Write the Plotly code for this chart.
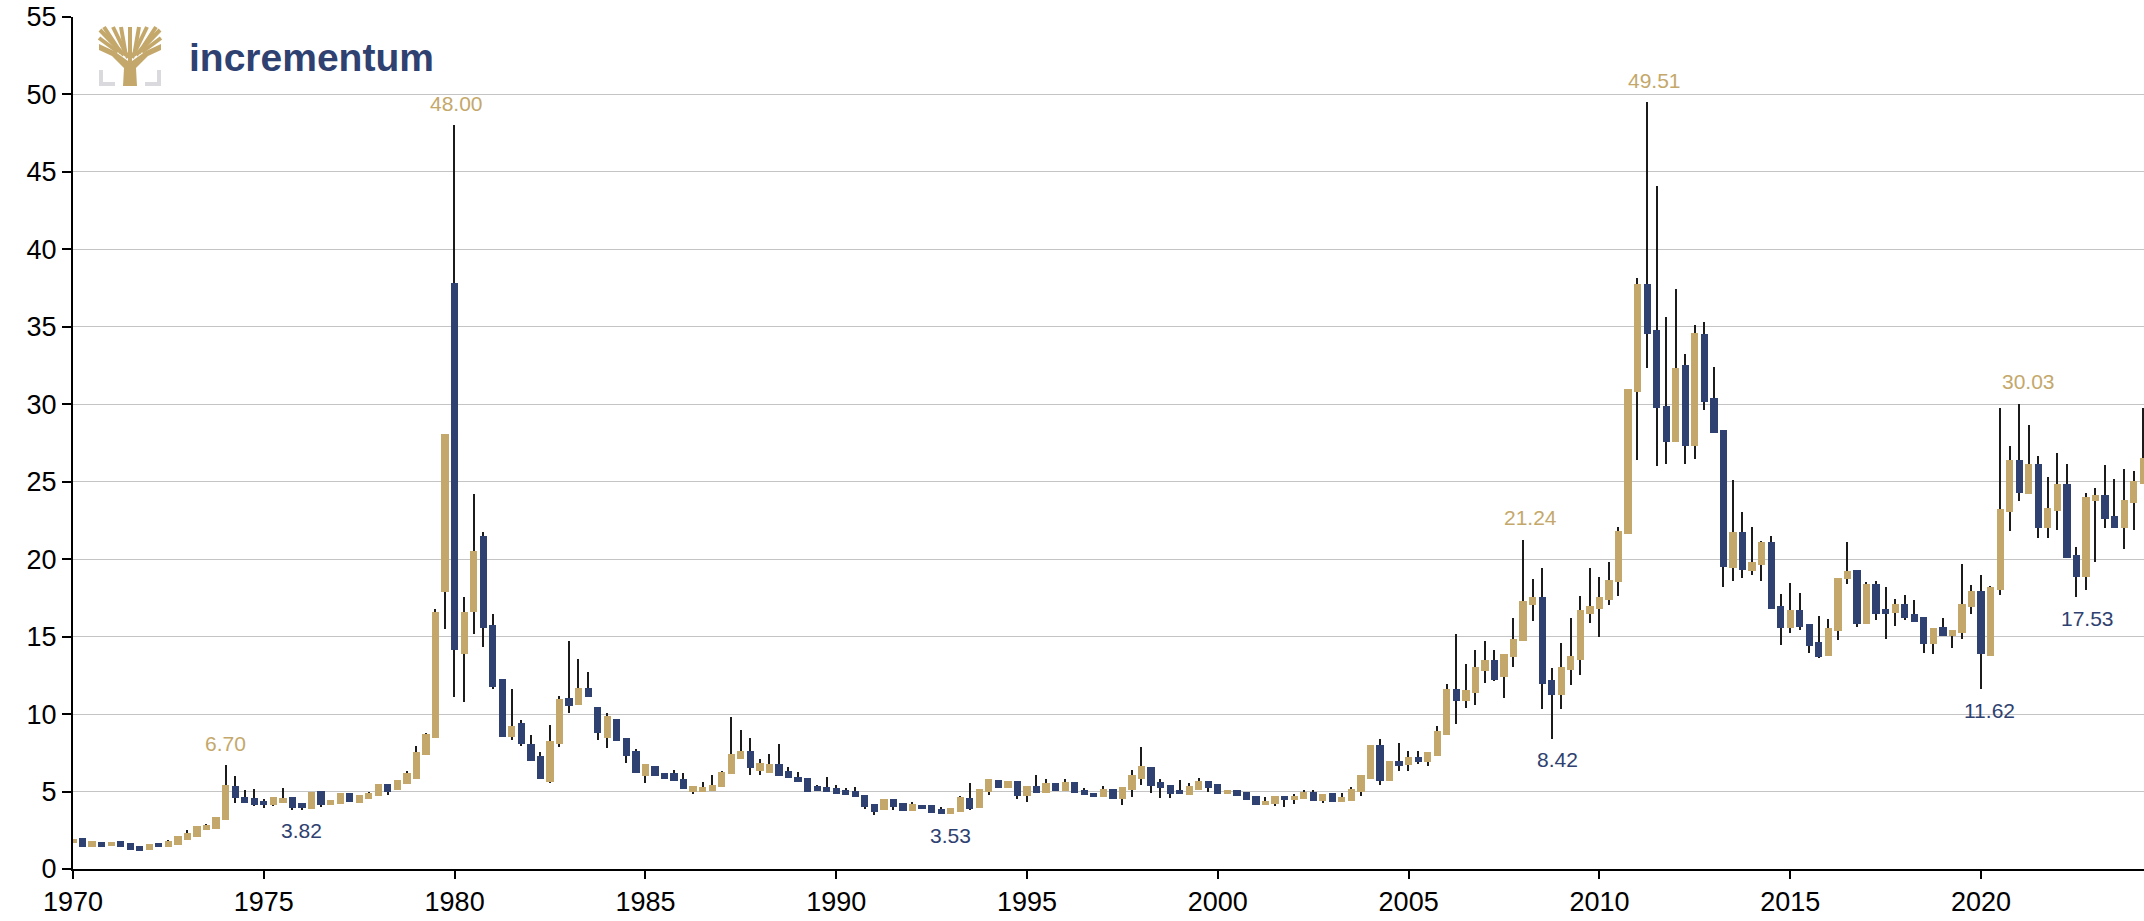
import plotly.graph_objects as go

# ---------------- data (quarterly silver price, USD/oz) ----------------
start_year = 1970
opens = [1.65, 1.98, 1.45, 1.76, 1.50, 1.78, 1.65, 1.47, 1.21, 1.65, 1.39, 1.58, 1.87, 2.06, 2.50, 2.60,
         3.19, 5.34, 4.66, 4.58, 4.38, 4.10, 4.29, 4.62, 4.27, 3.90, 5.05, 4.16, 4.19, 4.92, 4.25, 4.49,
         4.73, 5.47, 5.10, 5.49, 5.81, 7.38, 8.44, 17.90, 37.80, 13.90, 16.56, 21.50, 15.75, 12.25, 8.50, 9.40,
         8.10, 7.28, 5.64, 8.10, 11.05, 10.60, 11.70, 10.48, 8.44, 9.70, 8.44, 7.60, 6.00, 6.68, 6.17, 6.17,
         5.84, 4.99, 4.99, 5.03, 5.29, 6.12, 7.07, 7.64, 6.33, 6.20, 6.81, 6.33, 5.97, 5.88, 5.34, 5.31,
         5.25, 5.10, 5.05, 4.77, 4.19, 3.80, 4.53, 4.25, 3.75, 4.14, 4.10, 3.86, 3.54, 3.71, 4.58, 3.93,
         4.97, 5.77, 5.25, 5.68, 4.73, 5.36, 4.90, 5.53, 5.03, 5.64, 5.10, 4.92, 4.62, 5.16, 4.49, 5.12,
         5.79, 6.60, 5.60, 5.43, 5.10, 4.80, 5.10, 5.69, 5.50, 4.85, 5.10, 4.96, 4.70, 4.11, 4.18, 4.72,
         4.44, 4.52, 4.94, 4.37, 4.89, 4.33, 4.39, 4.96, 5.80, 8.00, 5.69, 6.97, 6.69, 7.21, 6.88, 7.32,
         8.68, 11.62, 10.82, 11.36, 12.75, 13.52, 12.37, 13.70, 14.70, 17.07, 17.53, 12.23, 11.25, 12.83, 13.47, 16.49,
         16.78, 17.36, 18.51, 21.63, 30.77, 37.75, 34.81, 29.90, 27.55, 32.51, 27.33, 34.53, 30.41, 28.36, 19.45, 21.75,
         19.23, 19.60, 21.10, 17.00, 15.53, 16.73, 15.82, 14.63, 13.73, 15.34, 18.71, 19.29, 15.82, 18.38, 16.77, 16.51,
         17.11, 16.47, 16.25, 14.55, 15.60, 15.04, 15.22, 16.90, 17.95, 13.76, 18.00, 23.03, 26.43, 24.24, 26.13, 22.00,
         23.14, 24.86, 20.28, 18.82, 23.76, 24.15, 22.82, 22.00, 23.60, 24.84]
highs = [1.95, 1.98, 1.78, 1.76, 1.76, 1.78, 1.65, 1.47, 1.60, 1.65, 1.87, 2.10, 2.52, 2.78, 2.90, 3.36,
         6.70, 6.03, 5.12, 5.16, 4.50, 4.62, 5.23, 4.62, 4.27, 4.95, 5.05, 4.47, 4.90, 4.92, 4.77, 4.95,
         5.51, 5.47, 5.75, 6.30, 7.92, 8.78, 16.80, 28.10, 48.00, 17.56, 24.20, 21.76, 16.46, 12.25, 11.60, 9.60,
         8.68, 7.55, 9.28, 11.20, 14.70, 13.58, 12.70, 10.48, 10.05, 9.70, 8.44, 7.77, 6.78, 6.68, 6.17, 6.40,
         6.17, 5.34, 5.64, 6.07, 6.35, 9.83, 8.98, 8.48, 7.07, 7.40, 8.05, 6.59, 6.27, 5.88, 5.42, 5.94,
         5.45, 5.23, 5.29, 4.77, 4.19, 4.51, 4.53, 4.25, 4.34, 4.14, 4.10, 4.03, 3.93, 4.70, 5.55, 5.18,
         5.84, 5.77, 5.71, 5.68, 5.36, 6.10, 5.79, 5.53, 5.81, 5.64, 5.23, 4.92, 5.38, 5.16, 5.29, 6.36,
         7.88, 6.60, 5.82, 5.43, 5.76, 5.52, 5.89, 5.69, 5.50, 5.10, 5.10, 4.96, 4.70, 4.63, 4.72, 4.72,
         4.87, 5.11, 5.11, 4.85, 4.89, 4.89, 5.32, 6.04, 8.00, 8.42, 6.99, 8.14, 7.60, 7.62, 7.55, 9.22,
         11.92, 15.17, 13.25, 14.15, 14.72, 14.15, 13.87, 16.20, 21.24, 18.74, 19.46, 12.98, 14.62, 16.20, 17.65, 19.44,
         18.86, 19.81, 22.10, 30.97, 38.12, 49.51, 44.11, 35.62, 37.47, 33.24, 35.12, 35.34, 32.43, 28.36, 25.08, 23.07,
         22.11, 21.20, 21.50, 17.78, 18.47, 17.80, 15.82, 16.36, 16.14, 18.81, 21.10, 19.29, 18.50, 18.60, 18.23, 17.45,
         17.70, 17.35, 16.25, 15.58, 16.22, 15.43, 19.66, 18.32, 18.95, 18.30, 29.74, 27.31, 30.03, 28.67, 26.67, 25.31,
         26.88, 26.13, 20.80, 24.25, 24.58, 26.06, 25.20, 25.80, 25.70, 29.74]
lows = [1.65, 1.45, 1.45, 1.45, 1.50, 1.39, 1.21, 1.17, 1.21, 1.39, 1.39, 1.58, 1.87, 2.06, 2.50, 2.60,
        3.19, 4.27, 4.27, 4.07, 3.94, 4.05, 4.29, 3.82, 3.82, 3.90, 4.03, 4.12, 4.19, 4.30, 4.25, 4.49,
        4.73, 4.80, 5.10, 5.49, 5.81, 7.38, 8.44, 15.50, 11.10, 10.80, 15.20, 14.35, 11.60, 8.50, 8.30, 7.95,
        6.94, 5.80, 5.58, 7.90, 10.10, 10.60, 11.10, 8.30, 7.84, 8.28, 6.83, 6.20, 5.57, 6.00, 5.84, 5.67,
        5.17, 4.82, 4.99, 5.03, 5.29, 6.12, 7.07, 6.07, 6.05, 6.20, 6.00, 5.90, 5.60, 4.99, 5.05, 4.99,
        4.82, 4.75, 4.62, 3.86, 3.49, 3.80, 3.80, 3.75, 3.75, 3.90, 3.62, 3.54, 3.53, 3.71, 3.83, 3.93,
        4.77, 5.21, 5.25, 4.50, 4.30, 4.90, 4.90, 5.03, 5.03, 4.88, 4.75, 4.62, 4.62, 4.49, 4.12, 4.62,
        5.43, 4.92, 4.60, 4.60, 4.83, 4.80, 5.10, 5.00, 4.87, 4.85, 4.74, 4.46, 4.16, 4.11, 4.07, 4.00,
        4.20, 4.52, 4.39, 4.24, 4.33, 4.33, 4.39, 4.72, 5.80, 5.43, 5.69, 6.32, 6.32, 6.79, 6.65, 7.32,
        8.68, 9.39, 10.41, 10.58, 12.00, 12.15, 11.07, 13.05, 14.70, 16.00, 10.30, 8.42, 10.35, 11.90, 12.50, 15.90,
        14.95, 17.05, 17.60, 21.63, 26.41, 32.35, 26.04, 26.12, 27.55, 26.12, 26.46, 29.60, 28.17, 18.19, 18.60, 18.80,
        19.00, 18.60, 16.79, 14.46, 15.25, 15.40, 13.92, 13.63, 13.73, 14.78, 18.40, 15.65, 15.82, 16.05, 14.87, 15.70,
        16.07, 15.97, 13.92, 13.86, 15.02, 14.29, 14.87, 16.45, 11.62, 13.76, 17.70, 21.83, 23.77, 24.20, 21.35, 21.37,
        21.91, 20.06, 17.53, 18.03, 19.85, 22.04, 22.00, 20.65, 21.90, 24.84]
closes = [1.95, 1.45, 1.78, 1.45, 1.76, 1.39, 1.21, 1.17, 1.60, 1.39, 1.80, 2.10, 2.30, 2.78, 2.84, 3.36,
          5.42, 4.58, 4.27, 4.16, 4.10, 4.62, 4.58, 3.97, 3.93, 4.95, 4.10, 4.47, 4.90, 4.30, 4.77, 4.88,
          5.51, 4.97, 5.75, 6.18, 7.53, 8.72, 16.62, 28.10, 14.15, 16.56, 20.50, 15.55, 11.75, 8.50, 9.20, 8.10,
          6.94, 5.80, 8.24, 11.00, 10.50, 11.68, 11.10, 8.78, 9.85, 8.28, 7.30, 6.20, 6.78, 6.00, 5.84, 5.67,
          5.17, 5.34, 5.27, 5.42, 6.29, 7.40, 7.64, 6.55, 6.85, 6.77, 6.00, 5.90, 5.60, 4.99, 5.05, 4.99,
          4.82, 4.75, 4.62, 4.03, 3.71, 4.51, 3.99, 3.75, 4.19, 3.90, 3.62, 3.54, 3.93, 4.66, 3.90, 5.18,
          5.84, 5.21, 5.71, 4.73, 5.36, 4.90, 5.57, 5.03, 5.62, 4.88, 4.75, 4.62, 5.18, 4.49, 5.29, 6.10,
          6.62, 5.39, 5.22, 4.87, 4.83, 5.35, 5.65, 5.26, 4.87, 5.10, 4.74, 4.46, 4.16, 4.37, 4.72, 4.46,
          4.74, 4.94, 4.39, 4.85, 4.33, 4.68, 5.19, 6.04, 8.00, 5.69, 6.99, 6.67, 7.25, 6.90, 7.55, 8.90,
          11.62, 10.87, 11.56, 13.03, 13.52, 12.23, 13.87, 14.85, 17.33, 17.53, 11.94, 11.25, 13.06, 13.75, 16.72, 17.01,
          17.56, 18.66, 21.83, 30.97, 37.75, 34.54, 29.76, 27.55, 32.34, 27.33, 34.59, 30.16, 28.17, 19.51, 21.78, 19.31,
          19.81, 21.10, 16.79, 15.53, 16.70, 15.65, 14.42, 13.69, 15.54, 18.81, 19.25, 15.82, 18.38, 16.49, 16.49, 17.11,
          16.18, 15.97, 14.50, 15.58, 15.02, 15.43, 17.11, 17.93, 13.88, 18.22, 23.25, 26.43, 24.26, 26.13, 22.04, 23.33,
          24.84, 20.06, 18.82, 24.04, 24.13, 22.58, 22.00, 23.83, 25.05, 26.52]

# highlighted extremes: (quarter index, text, kind)
label_idx = [16, 40, 152, 165, 204, 24, 92, 155, 200, 210]
label_text = ["6.70", "48.00", "21.24", "49.51", "30.03", "3.82", "3.53", "8.42", "11.62", "17.53"]
label_kind = ["high", "high", "high", "high", "high", "low", "low", "low", "low", "low"]
label_dx = [0, 2, 7, 7, 9, 0, 0, 6, 8, 11]

x_ticks = [1970, 1975, 1980, 1985, 1990, 1995, 2000, 2005, 2010, 2015, 2020]
y_ticks = [0, 5, 10, 15, 20, 25, 30, 35, 40, 45, 50, 55]

# ---------------- style ----------------
GOLD = "#C4A86B"
NAVY = "#2E4170"
W, H = 2144, 921
ML, MR, MT, MB = 73, 0, 17, 52
FONT = "Liberation Sans, Arial, sans-serif"

quarters = [start_year + i * 0.25 for i in range(len(closes))]
body_base = [min(o, c) for o, c in zip(opens, closes)]
body_h = [abs(c - o) for o, c in zip(opens, closes)]
body_col = [GOLD if c > o else NAVY for o, c in zip(opens, closes)]

fig = go.Figure()
# wicks
fig.add_trace(go.Bar(x=quarters, base=lows, y=[h - l for h, l in zip(highs, lows)],
                     width=0.034, marker=dict(color="#1b1b1b", line=dict(width=0)),
                     hoverinfo="skip", showlegend=False))
# bodies
fig.add_trace(go.Bar(x=quarters, base=body_base, y=body_h, width=0.19,
                     marker=dict(color=body_col, line=dict(width=0)),
                     customdata=list(zip(opens, highs, lows, closes)),
                     hovertemplate="O %{customdata[0]}<br>H %{customdata[1]}<br>L %{customdata[2]}<br>C %{customdata[3]}<extra></extra>",
                     showlegend=False))

annotations = []
for i, t, kind, dx in zip(label_idx, label_text, label_kind, label_dx):
    if kind == "high":
        annotations.append(dict(x=quarters[i], y=highs[i], text=t, showarrow=False,
                                xshift=dx, yshift=22, font=dict(size=21, color=GOLD, family=FONT)))
    else:
        annotations.append(dict(x=quarters[i], y=lows[i], text=t, showarrow=False,
                                xshift=dx, yshift=-21, font=dict(size=21, color=NAVY, family=FONT)))

PW, PH = W - ML - MR, H - MT - MB
def px(xp):
    return (xp - ML) / PW
def py(yp):
    return (H - MB - yp) / PH

# logo text
annotations.append(dict(xref="paper", yref="paper", x=px(187), y=py(57), xanchor="left",
                        yanchor="middle", text="<b>incrementum</b>", showarrow=False,
                        font=dict(size=39, color=NAVY, family=FONT)))

def path(points, close=False):
    s = "M " + " L ".join(f"{px(a):.5f},{py(b):.5f}" for a, b in points)
    return s + (" Z" if close else "")

shapes = []
# tree trunk
shapes.append(dict(type="path", xref="paper", yref="paper", layer="above",
                   path=path([(123, 86), (137, 86), (136, 68), (148, 56), (161, 50), (161, 44),
                              (146, 51), (132, 61), (128, 61), (114, 51), (99, 44), (99, 50),
                              (112, 56), (124, 68)], close=True),
                   fillcolor=GOLD, line=dict(width=0)))
# branches
for a, b in [((130, 62), (130, 27)), ((128, 58), (113, 27)), ((132, 58), (147, 27)),
             ((124, 55), (100, 30)), ((136, 55), (160, 30)), ((121, 53), (104, 27)),
             ((139, 53), (156, 27)), ((126, 56), (121, 27)), ((134, 56), (139, 27)),
             ((118, 52), (99, 38)), ((142, 52), (161, 38))]:
    shapes.append(dict(type="line", xref="paper", yref="paper", layer="above",
                       x0=px(a[0]), y0=py(a[1]), x1=px(b[0]), y1=py(b[1]),
                       line=dict(color=GOLD, width=4)))
# grey brackets
for pts in [[(101, 70), (101, 84), (115, 84)], [(159, 70), (159, 84), (145, 84)]]:
    shapes.append(dict(type="path", xref="paper", yref="paper", layer="above",
                       path=path(pts), line=dict(color="#D9D9DE", width=4)))

fig.update_layout(
    width=W, height=H, margin=dict(l=ML, r=MR, t=MT, b=MB),
    paper_bgcolor="white", plot_bgcolor="white",
    barmode="overlay", bargap=0, showlegend=False,
    font=dict(family=FONT, color="black"),
    annotations=annotations, shapes=shapes,
    xaxis=dict(range=[1970, 2024.27], tickmode="array", tickvals=x_ticks,
               ticktext=[str(v) for v in x_ticks], ticks="outside", ticklen=8,
               tickwidth=1.5, tickcolor="black", showline=True, linecolor="black",
               linewidth=2, showgrid=False, zeroline=False,
               tickfont=dict(size=27, color="black")),
    yaxis=dict(range=[0, 55], tickmode="array", tickvals=y_ticks, ticks="outside",
               ticklen=9, tickwidth=1.5, tickcolor="black", showline=True,
               linecolor="black", linewidth=2, showgrid=True, gridcolor="#C4C4C4",
               gridwidth=1.3, zeroline=False, tickfont=dict(size=27, color="black")),
)

fig.write_html("out.html", config={"displayModeBar": False},
               post_script="document.body.style.margin='0';")
